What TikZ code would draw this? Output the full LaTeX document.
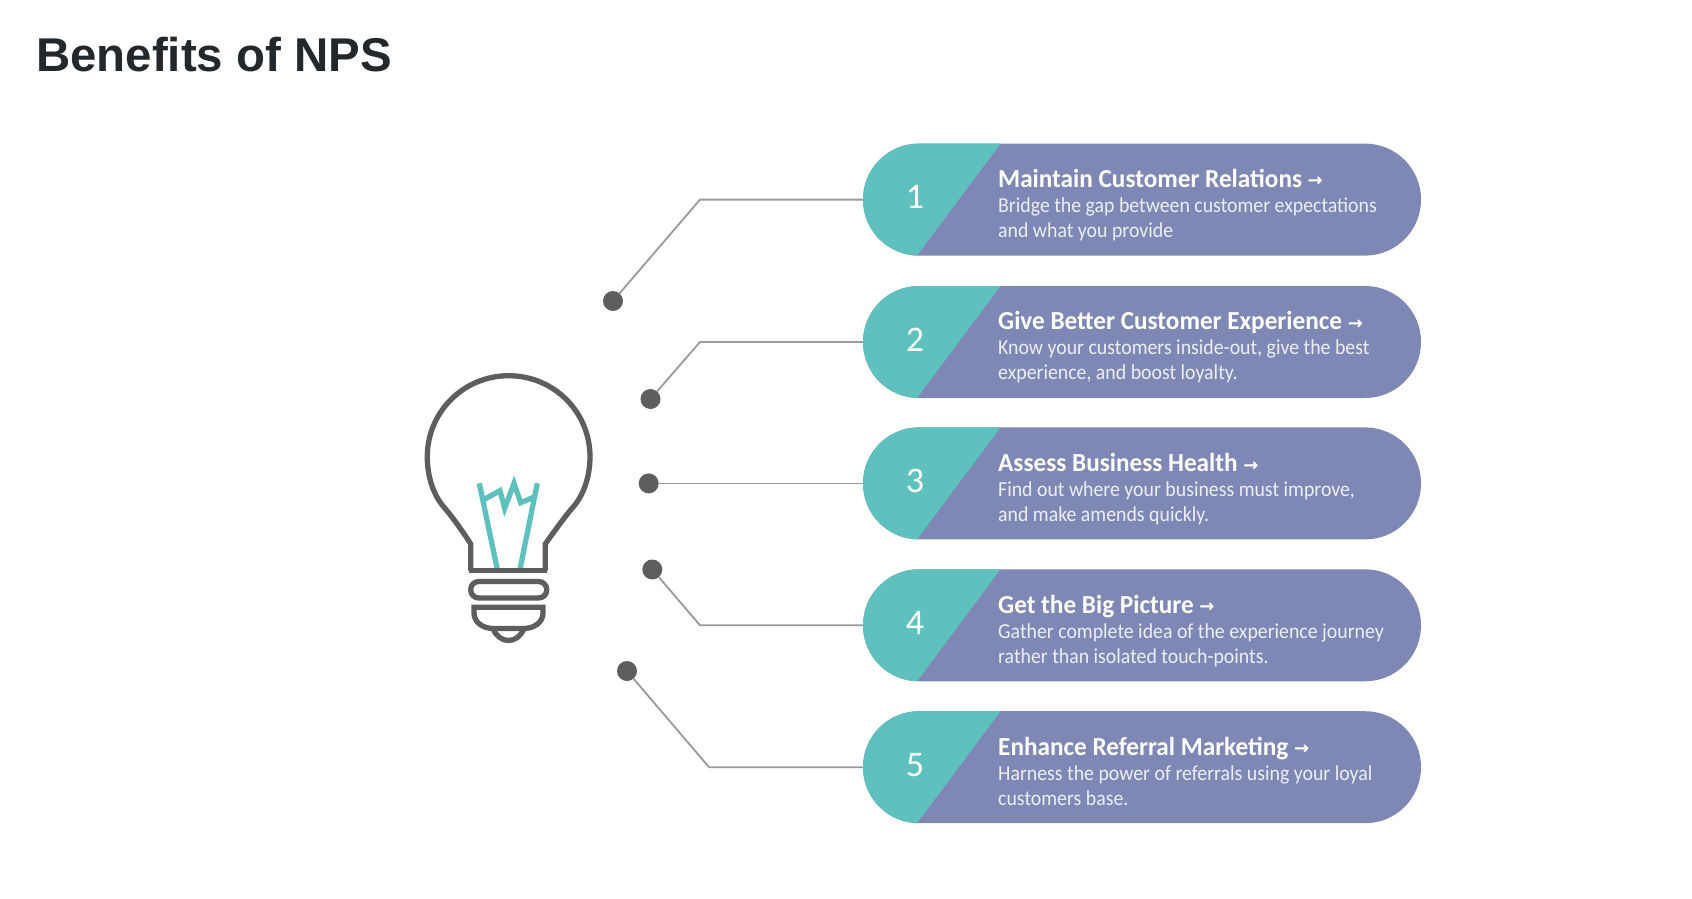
\documentclass[tikz,border=0pt]{standalone}
\usepackage{fontspec}
\setmainfont{Carlito}[FakeStretch=0.93]
\newfontfamily\headfont{Carlito}[FakeStretch=0.97,BoldFont={Carlito Bold}]
\newfontfamily\numfont{Carlito}
\newfontfamily\titlefont{Liberation Sans}[BoldFont={Liberation Sans Bold}]
\newfontfamily\arrowfont{DejaVu Sans Bold}
\definecolor{pillblue}{HTML}{7F88B5}
\definecolor{pillteal}{HTML}{5FC1BD}
\definecolor{bulbgrey}{HTML}{5E5E60}
\definecolor{linegrey}{HTML}{9A9A9A}
\definecolor{titleink}{HTML}{23282D}
\definecolor{bodyink}{HTML}{ECEEF5}
\tikzset{
  pill/.style={minimum width=558pt,minimum height=112pt,inner sep=0pt,rounded corners=55.9pt,fill=pillblue},
  dotmark/.style={circle,fill=bulbgrey,minimum size=20pt,inner sep=0pt},
  leader/.style={draw=linegrey,line width=1.8pt},
  bulbline/.style={draw=bulbgrey,line width=5.3pt,line join=miter},
  filament/.style={draw=pillteal,line width=5.3pt,line join=miter},
  numeral/.style={text=white,font=\numfont\fontsize{36}{36}\selectfont,inner sep=0pt},
  blurb/.style={text=bodyink,align=left,anchor=west,inner sep=0pt,font=\fontsize{21.3}{25}\selectfont},
}
% One benefit row: pill with its teal wedge, number and text.
% Arguments: number, pill centre y, text centre y, heading, two body lines.
\newcommand{\benefitrow}[6]{%
  \node[pill] (p#1) at (1142,#2) {};
  \begin{scope}
    \clip[rounded corners=55.9pt] (863,#2-56) rectangle (1421,#2+56);
    \fill[pillteal] (860,#2-58) -- (1002,#2-58) -- (915.5,#2+58) -- (860,#2+58) -- cycle;
  \end{scope}
  \node[numeral] (n#1) at (915,#2-2.5) {#1};
  \node[blurb] (t#1) at (998,#3) {{\headfont\bfseries\color{white}\fontsize{26}{25}\selectfont #4 {\arrowfont\fontsize{18}{25}\selectfont\raisebox{0.5pt}{→}}}\\#5\\#6};
}
\begin{document}
\begin{tikzpicture}[x=1pt,y=-1pt]
\useasboundingbox (0,0) rectangle (1692,899);
\fill[white] (0,0) rectangle (1692,899);

\node[anchor=base west,inner sep=0pt,text=titleink,font=\titlefont\bfseries\fontsize{47.4}{48}\selectfont] (title) at (36,72) {Benefits of NPS};

% Leader lines with their end dots
\node[dotmark] (d1) at (613,301) {};
\node[dotmark] (d2) at (650.5,399) {};
\node[dotmark] (d3) at (648.7,483.4) {};
\node[dotmark] (d4) at (652.3,569.5) {};
\node[dotmark] (d5) at (627,671) {};
\coordinate (e1) at (700,199.6);
\coordinate (e2) at (700,342);
\coordinate (e4) at (700,625.3);
\coordinate (e5) at (709,767.2);

\benefitrow{1}{199.6}{205}{Maintain Customer Relations}{Bridge the gap between customer expectations}{and what you provide}
\benefitrow{2}{342}{347.3}{Give Better Customer Experience}{Know your customers inside-out, give the best}{experience, and boost loyalty.}
\benefitrow{3}{483.4}{489.4}{Assess Business Health}{Find out where your business must improve,}{and make amends quickly.}
\benefitrow{4}{625.3}{631}{Get the Big Picture}{Gather complete idea of the experience journey}{rather than isolated touch-points.}
\benefitrow{5}{767.2}{771}{Enhance Referral Marketing}{Harness the power of referrals using your loyal}{customers base.}

\draw[leader] (p1.west) -- (e1) -- (d1);
\draw[leader] (p2.west) -- (e2) -- (d2);
\draw[leader] (p3.west) -- (d3);
\draw[leader] (p4.west) -- (e4) -- (d4);
\draw[leader] (p5.west) -- (e5) -- (d5);

% Light bulb: filament first, then glass and base
\draw[filament] (479.3,483.3) -- (497.3,569.3);
\draw[filament] (537.3,483.3) -- (520,569.3);
\draw[filament] (484,499.5) -- (500,490.7) -- (504.7,508.3) -- (514,483.3) -- (520.7,502.7) -- (535,496.7);
\draw[bulbline] (470.7,570.7) -- (470.7,544)
  .. controls (462,530) and (450,514) .. (443,506)
  .. controls (433,494) and (427.3,476) .. (427.3,456.7)
  .. controls (427.3,411.8) and (463.7,375.7) .. (508.7,375.7)
  .. controls (553.7,375.7) and (590,411.8) .. (590,456.7)
  .. controls (590,476) and (584,494) .. (574,506)
  .. controls (567,514) and (555,530) .. (545.3,544)
  -- (545.3,570.7);
\draw[bulbline] (469,570.7) -- (547,570.7);
\draw[bulbline,rounded corners=8pt] (470.7,581.5) rectangle (546.7,598);
\draw[bulbline] (474,607.3) -- (543,607.3) -- (543,613)
  .. controls (543,623) and (533,628.5) .. (524,628.5)
  -- (493,628.5) .. controls (484,628.5) and (474,623) .. (474,613) -- cycle;
\draw[bulbline] (493,628.5) .. controls (496,636) and (502,640.5) .. (508.5,640.5)
  .. controls (515,640.5) and (521,636) .. (524,628.5);
\end{tikzpicture}
\end{document}
